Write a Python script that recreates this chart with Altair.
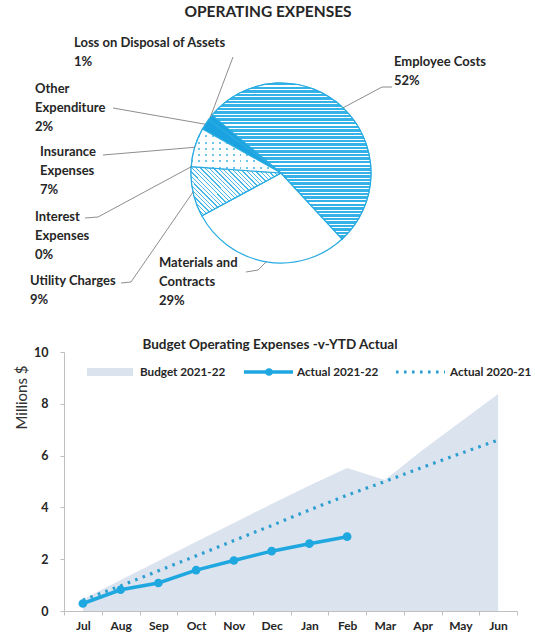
import math
import altair as alt
import pandas as pd

# ---------------- data ----------------
pie_names = ["Employee Costs", "Materials and Contracts", "Utility Charges",
             "Interest Expenses", "Insurance Expenses", "Other Expenditure",
             "Loss on Disposal of Assets"]
pie_lines = [["Employee Costs"], ["Materials and", "Contracts"], ["Utility Charges"],
             ["Interest", "Expenses"], ["Insurance", "Expenses"], ["Other", "Expenditure"],
             ["Loss on Disposal of Assets"]]
pie_pct = [52, 29, 9, 0, 7, 2, 1]

months = ["Jul", "Aug", "Sep", "Oct", "Nov", "Dec", "Jan", "Feb", "Mar", "Apr", "May", "Jun"]
budget_2122 = [0.45, 1.2, 1.93, 2.67, 3.4, 4.13, 4.85, 5.52, 5.06, 6.22, 7.3, 8.38]
actual_2122 = [0.29, 0.82, 1.08, 1.58, 1.95, 2.31, 2.6, 2.87]
actual_2021 = [0.42, 0.97, 1.55, 2.13, 2.72, 3.3, 3.9, 4.47, 5.0, 5.55, 6.08, 6.6]
series_names = ["Budget 2021-22", "Actual 2021-22", "Actual 2020-21"]
y_ticks = [0, 2, 4, 6, 8, 10]

pie_title = "OPERATING EXPENSES"
line_title = "Budget Operating Expenses -v-YTD Actual"
y_title = "Millions $"

# ---------------- layout / style ----------------
W, H = 535, 636
FONT = "Lato"
TXT = "#262626"
BLUE = "#29abe2"
BLUE_FILL = "#35b2e7"
HATCH = "#47b8e8"
DOTC = "#6cc6ec"
BLUE_SOLID = "#1aa3e0"
AREA = "#dbe3ee"
DOT = "#2c9fd0"
LINE = "#1fa7e0"

CX, CY, R = 281, 173, 90
START = math.radians(-50)

label_anchor = {
    "Employee Costs": (394, 62),
    "Materials and Contracts": (159, 263),
    "Utility Charges": (30, 281),
    "Interest Expenses": (35, 217),
    "Insurance Expenses": (40, 152),
    "Other Expenditure": (35, 89),
    "Loss on Disposal of Assets": (74, 43),
}
leader_pts = {
    "Employee Costs": [(392, 87), (382, 87)],
    "Materials and Contracts": [(246, 272), (258, 270)],
    "Utility Charges": [(121, 283), (131, 282)],
    "Interest Expenses": [(85, 218), (98, 217)],
    "Insurance Expenses": [(103, 155)],
    "Other Expenditure": [(113, 108)],
    "Loss on Disposal of Assets": [(233, 57)],
}
LINE_H = 19

X0, X1 = 64, 517
Y0, Y1 = 611, 352

# ---------------- pie frames ----------------
cum = 0
rows = []
for i, (n, p) in enumerate(zip(pie_names, pie_pct)):
    rows.append({"name": n, "pct": p, "start": cum, "end": cum + p, "idx": i})
    cum += p
pie_df = pd.DataFrame(rows)

slice_fill = ["#ffffff", "#ffffff", "#ffffff", "#ffffff", "#ffffff", BLUE_SOLID, BLUE_SOLID]

theta_scale = alt.Scale(domain=[0, 100], range=[START, START + 2 * math.pi])

lab_rows = []
lead_rows = []
for r in rows:
    n = r["name"]
    lx, ly = label_anchor[n]
    lines = pie_lines[r["idx"]] + [f"{r['pct']}%"]
    for k, t in enumerate(lines):
        lab_rows.append({"text": t, "tx": lx, "ty": ly + k * LINE_H})
    mid = START + 2 * math.pi * (r["start"] + r["end"]) / 200.0
    ex = CX + R * math.sin(mid)
    ey = CY - R * math.cos(mid)
    pts = leader_pts[n] + [(ex, ey)]
    for k, (px, py) in enumerate(pts):
        lead_rows.append({"name": n, "i": k, "px": px, "py": py})
lab_df = pd.DataFrame(lab_rows)
lead_df = pd.DataFrame(lead_rows)


def stripes(n, frac, c_line, c_bg, phase=0.0):
    st = []
    for i in range(n):
        a = i / n
        b = (i + frac) / n
        c = (i + 1) / n
        st += [{"offset": round(a, 5), "color": c_line}, {"offset": round(b, 5), "color": c_line},
               {"offset": round(b, 5), "color": c_bg}, {"offset": round(c, 5), "color": c_bg}]
    return st


grad_h = {"gradient": "linear", "x1": 0, "y1": 0, "x2": 0, "y2": 1,
          "stops": stripes(44, 0.68, BLUE_FILL, "#ffffff")}
grad_d = {"gradient": "linear", "x1": 0, "y1": 1, "x2": 1.191, "y2": 0.352,
          "stops": stripes(32, 0.3, HATCH, "#ffffff")}
# dotted pattern = vertical blue stripes masked by horizontal white stripes
grad_v = {"gradient": "linear", "x1": 0, "y1": 0, "x2": 1, "y2": 0,
          "stops": stripes(13, 0.28, DOTC, "#ffffff")}
grad_mask = {"gradient": "linear", "x1": 0, "y1": 0, "x2": 0, "y2": 1,
             "stops": stripes(7, 0.3, "rgba(255,255,255,0)", "#ffffff")}

base_pie = alt.Chart(pie_df)
pie_enc = dict(
    theta=alt.Theta("start:Q", stack=None, scale=theta_scale),
    theta2="end:Q",
    x=alt.value(CX), y=alt.value(CY),
)
pie_base = base_pie.mark_arc(radius=R, stroke=BLUE, strokeWidth=1.2).encode(
    fill=alt.Fill("name:N", scale=alt.Scale(domain=pie_names, range=slice_fill), legend=None),
    **pie_enc)


def overlay(name, fill, stroke=True):
    kw = dict(radius=R, fill=fill)
    if stroke:
        kw.update(stroke=BLUE, strokeWidth=1.2)
    else:
        kw.update(strokeWidth=0)
    return base_pie.transform_filter(alt.datum.name == name).mark_arc(**kw).encode(**pie_enc)


pie_emp = overlay(pie_names[0], grad_h)
pie_util = overlay(pie_names[2], grad_d)
pie_ins_v = overlay(pie_names[4], grad_v, stroke=False)
pie_ins_m = overlay(pie_names[4], grad_mask)

leaders = alt.Chart(lead_df).mark_line(color="#808080", strokeWidth=0.9).encode(
    x=alt.X("px:Q", scale=None), y=alt.Y("py:Q", scale=None),
    detail="name:N", order="i:Q")
pie_labels = alt.Chart(lab_df).mark_text(
    align="left", baseline="middle", font=FONT, fontWeight="bold", fontSize=13, color=TXT
).encode(x=alt.X("tx:Q", scale=None), y=alt.Y("ty:Q", scale=None), text="text:N")

one = pd.DataFrame({"k": [0]})
pie_title_t = alt.Chart(one).mark_text(
    align="center", baseline="middle", font=FONT, fontWeight="bold", fontSize=15.5, color=TXT
).encode(x=alt.value(268), y=alt.value(12), text=alt.value(pie_title))

# ---------------- line chart ----------------
bud_df = pd.DataFrame({"month": months, "value": budget_2122})
a22_df = pd.DataFrame({"month": months[:len(actual_2122)], "value": actual_2122})
a21_df = pd.DataFrame({"month": months, "value": actual_2021})

x_scale = alt.Scale(type="band", domain=months, range=[X0, X1], paddingInner=0, paddingOuter=0)
y_scale = alt.Scale(domain=[0, 10], range=[Y0, Y1], nice=False)

x_axis = alt.Axis(title=None, offset=-(H - Y0), tickBand="extent", tickSize=4,
                  domainColor="#bfbfbf", tickColor="#bfbfbf", labelFont=FONT,
                  labelFontWeight="bold", labelFontSize=12, labelColor=TXT, labelPadding=5,
                  labelAngle=0, grid=False)
y_axis = alt.Axis(title=y_title, values=y_ticks, offset=-X0, tickSize=4,
                  domainColor="#bfbfbf", tickColor="#bfbfbf", labelFont=FONT,
                  labelFontWeight="bold", labelFontSize=12.5, labelColor=TXT, labelPadding=12,
                  grid=False, titleFont=FONT, titleFontSize=15, titleFontWeight="normal",
                  titleColor="#333333", titleAngle=270, titleX=-(X0 - 21), titleY=397,
                  titleAlign="center", titleBaseline="middle")

X_ENC = alt.X("month:N", sort=months, scale=x_scale, axis=x_axis, bandPosition=0.5)
Y_ENC = alt.Y("value:Q", scale=y_scale, axis=y_axis)

area = alt.Chart(bud_df).mark_area(color=AREA, opacity=1).encode(x=X_ENC, y=Y_ENC)
dotted = alt.Chart(a21_df).mark_line(color=DOT, strokeWidth=3.2, strokeDash=[2.6, 5.4]).encode(
    x=X_ENC, y=Y_ENC)
actual = alt.Chart(a22_df).mark_line(
    color=LINE, strokeWidth=3.5,
    point=alt.OverlayMarkDef(filled=True, size=75, color=LINE, opacity=1)).encode(
    x=X_ENC, y=Y_ENC)

line_title_t = alt.Chart(one).mark_text(
    align="center", baseline="middle", font=FONT, fontWeight="bold", fontSize=13.5, color=TXT
).encode(x=alt.value(270), y=alt.value(345), text=alt.value(line_title))

LEG_Y = 372
leg_rect = alt.Chart(one).mark_rect(color=AREA).encode(
    x=alt.value(87), x2=alt.value(133), y=alt.value(LEG_Y - 4), y2=alt.value(LEG_Y + 4))
leg_line = alt.Chart(one).mark_rule(color=LINE, strokeWidth=3.5).encode(
    x=alt.value(244), x2=alt.value(293), y=alt.value(LEG_Y))
leg_pt = alt.Chart(one).mark_point(filled=True, size=55, color=LINE, opacity=1).encode(
    x=alt.value(269), y=alt.value(LEG_Y))
leg_dot = alt.Chart(one).mark_rule(color=DOT, strokeWidth=3, strokeDash=[2.6, 5.4]).encode(
    x=alt.value(396), x2=alt.value(445), y=alt.value(LEG_Y))
leg_x = [140, 297, 450]
leg_df = pd.DataFrame({"text": series_names, "tx": leg_x, "ty": [LEG_Y] * 3})
leg_text = alt.Chart(leg_df).mark_text(
    align="left", baseline="middle", font=FONT, fontWeight="bold", fontSize=11.7, color=TXT
).encode(x=alt.X("tx:Q", scale=None), y=alt.Y("ty:Q", scale=None), text="text:N")

chart = alt.layer(
    area, dotted, actual,
    pie_base, pie_emp, pie_util, pie_ins_v, pie_ins_m, leaders, pie_labels, pie_title_t,
    line_title_t, leg_rect, leg_line, leg_pt, leg_dot, leg_text,
).properties(
    width=W, height=H, padding=0,
    autosize=alt.AutoSizeParams(type="none"),
    background="white",
).configure_view(stroke=None)

chart.save("out.html", embed_options={"renderer": "svg", "actions": False})
